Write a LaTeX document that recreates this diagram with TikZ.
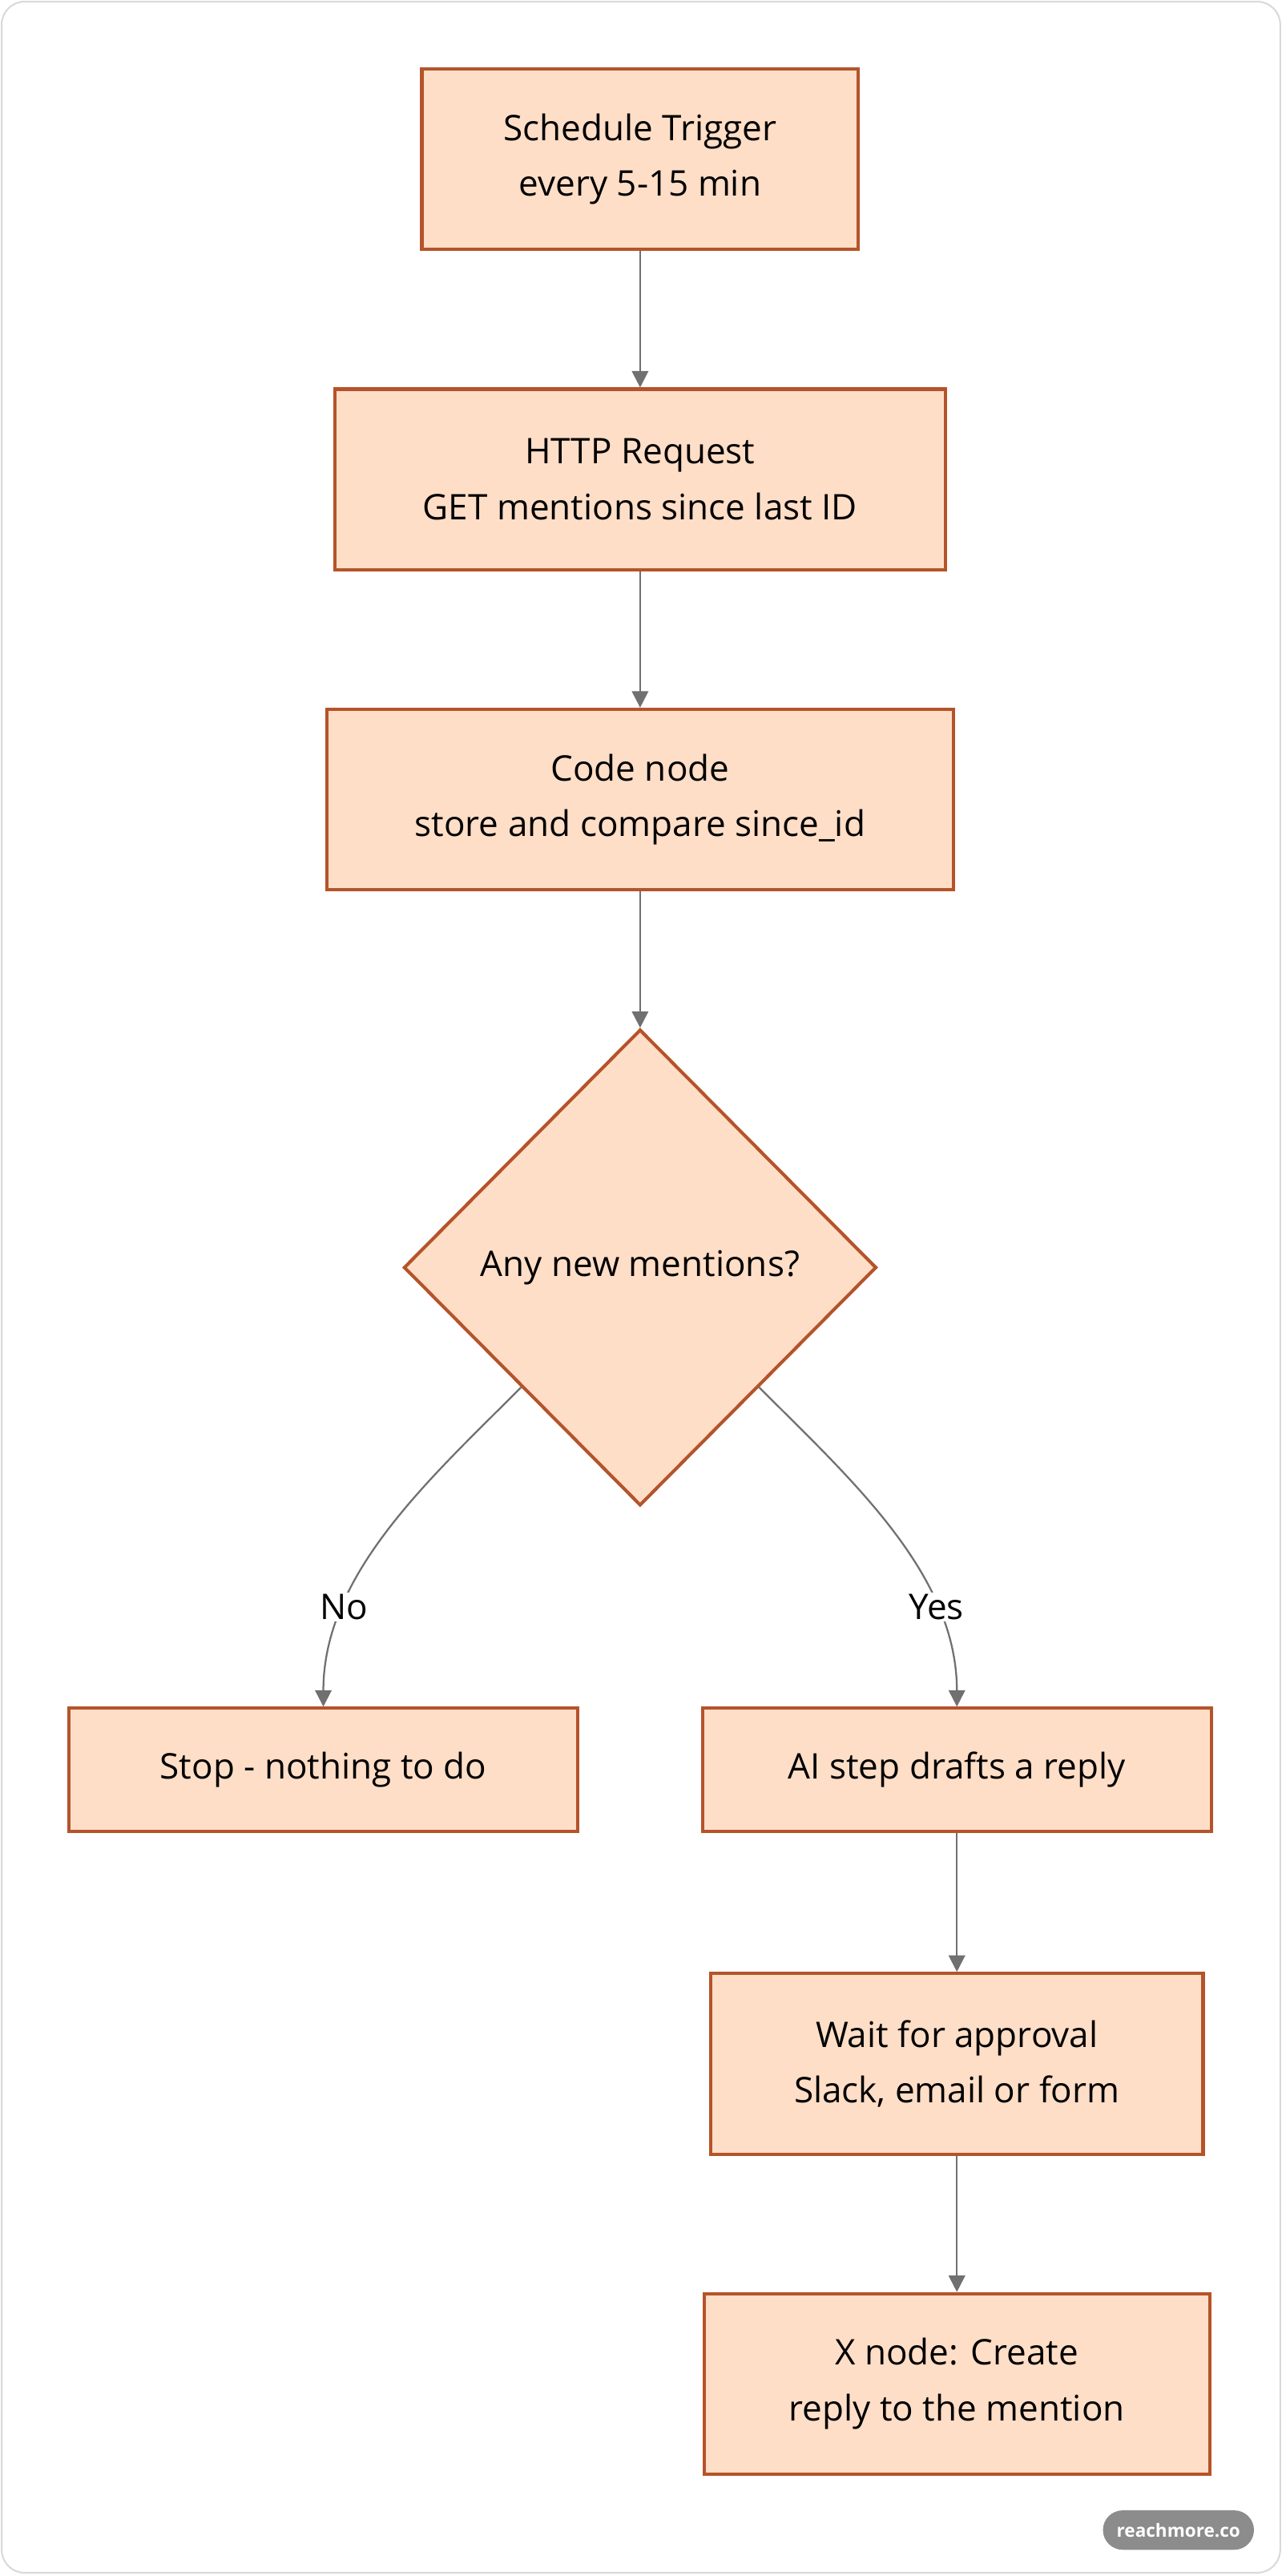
\documentclass[tikz,border=0pt]{standalone}
\usepackage{fontspec}
\setmainfont{Open Sans}
\usepackage{xcolor}
\usetikzlibrary{arrows.meta,positioning,shapes.geometric}
\definecolor{peach}{HTML}{FFDEC7}
\definecolor{rust}{HTML}{B5532A}
\definecolor{wire}{HTML}{707070}

\begin{document}
\begin{tikzpicture}[x=1pt,y=-1pt,node distance=195pt,on grid,
  box/.style={draw=rust,fill=peach,line width=2pt,align=center,
    font=\fontsize{21.5}{34}\selectfont,inner sep=0pt},
  flow/.style={draw=wire,line width=1.1pt,-{Triangle[length=10pt,width=10pt]}},
  tag/.style={fill=white,font=\fontsize{21.5}{24}\selectfont,inner sep=1pt}]
  \useasboundingbox (0,0) rectangle (781,1569);
  \draw[black!15,line width=1pt,rounded corners=14pt] (1,1) rectangle (780,1567);
  \node[box,minimum width=266pt,minimum height=110pt] (trig) at (390,97)
    {Schedule Trigger\\every 5-15 min};
  \node[box,minimum width=372pt,minimum height=110pt] (http) [below=of trig]
    {HTTP Request\\GET mentions since last ID};
  \node[box,minimum width=382pt,minimum height=110pt] (code) [below=of http]
    {Code node\\store and compare since\_id};
  \node[box,diamond,aspect=1,minimum width=288pt,minimum height=290pt]
    (new) [below=285pt of code] {Any new mentions?};
  \node[box,minimum width=310pt,minimum height=75pt] (stop) at (197,1078)
    {Stop - nothing to do};
  \node[box,minimum width=310pt,minimum height=75pt] (ai) at (583,1078)
    {AI step drafts a reply};
  \node[box,minimum width=300pt,minimum height=110pt] (wait) [below=179pt of ai]
    {Wait for approval\\Slack, email or form};
  \node[box,minimum width=308pt,minimum height=110pt] (post) [below=of wait]
    {X node: Create\\reply to the mention};
  \draw[flow] (trig) -- (http);
  \draw[flow] (http) -- (code);
  \draw[flow] (code) -- (new.north);
  \draw[flow] (new.south west) to[out=-135,in=90,looseness=0.9]
    node[tag,pos=0.73] {No} (stop.north);
  \draw[flow] (new.south east) to[out=-45,in=90,looseness=0.9]
    node[tag,pos=0.73] {Yes} (ai.north);
  \draw[flow] (ai) -- (wait);
  \draw[flow] (wait) -- (post);
  % watermark
  \node[fill=black!45,rounded corners=12pt,minimum width=92pt,minimum height=24pt,
    text=white,font=\fontsize{11}{13}\selectfont\bfseries] (mark) at (718,1541)
    {reachmore.co};
\end{tikzpicture}
\end{document}
